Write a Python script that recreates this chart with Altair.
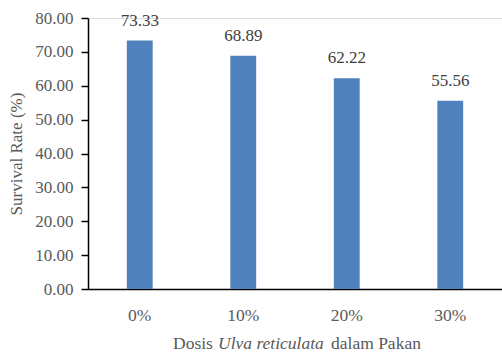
import altair as alt
import pandas as pd

categories = ["0%", "10%", "20%", "30%"]
survival = [73.33, 68.89, 62.22, 55.56]
y_ticks = [0, 10, 20, 30, 40, 50, 60, 70, 80]
x_title_parts = ["Dosis", "Ulva reticulata", "dalam Pakan"]

df = pd.DataFrame({"dosis": categories, "sr": survival})

FONT = "Liberation Serif"
GRAY = "#595959"

x_enc = alt.X("dosis:N", sort=categories,
              scale=alt.Scale(paddingInner=0.75, paddingOuter=0.375),
              axis=alt.Axis(title=None, labelAngle=0, ticks=False, labelPadding=17,
                            labelFont=FONT, labelFontSize=17.5, labelColor=GRAY,
                            domainColor="black", domainWidth=1.5))
y_enc = alt.Y("sr:Q", scale=alt.Scale(domain=[0, 80], nice=False),
              axis=alt.Axis(title="Survival Rate (%)", values=y_ticks, format=".2f",
                            labelOverlap=False, tickCount=9,
                            grid=False, tickSize=7, tickColor="black", tickWidth=1.5,
                            domainColor="black", domainWidth=1.5,
                            labelFont=FONT, labelFontSize=17, labelColor=GRAY,
                            labelPadding=8, titleFont=FONT, titleFontSize=17,
                            titleFontWeight="normal", titleColor=GRAY, titlePadding=9))

bars = alt.Chart(df).mark_bar(color="#4F81BD").encode(x=x_enc, y=y_enc)
labels = alt.Chart(df).mark_text(font=FONT, fontSize=17, color="#404040", dy=-20).encode(
    x=x_enc, y=y_enc, text=alt.Text("sr:Q", format=".2f"))

def part(text, xpos, italic=False):
    kw = dict(font=FONT, fontSize=17.5, color=GRAY, align="left", baseline="alphabetic")
    if italic:
        kw["fontStyle"] = "italic"
    return alt.Chart(pd.DataFrame({"t": [text]})).mark_text(**kw).encode(
        text="t:N", x=alt.value(xpos), y=alt.value(331))

t1 = part(x_title_parts[0], 85)
t2 = part(x_title_parts[1], 130, italic=True)
t3 = part(x_title_parts[2], 243)

chart = alt.layer(bars, labels, t1, t2, t3).properties(
    width=414, height=271,
    autosize=alt.AutoSizeParams(type="none"),
    padding={"left": 88, "top": 18, "right": 0, "bottom": 63},
).configure_view(stroke=None).configure(background="white")

chart.save("out.html", embed_options={"renderer": "svg", "actions": False})
